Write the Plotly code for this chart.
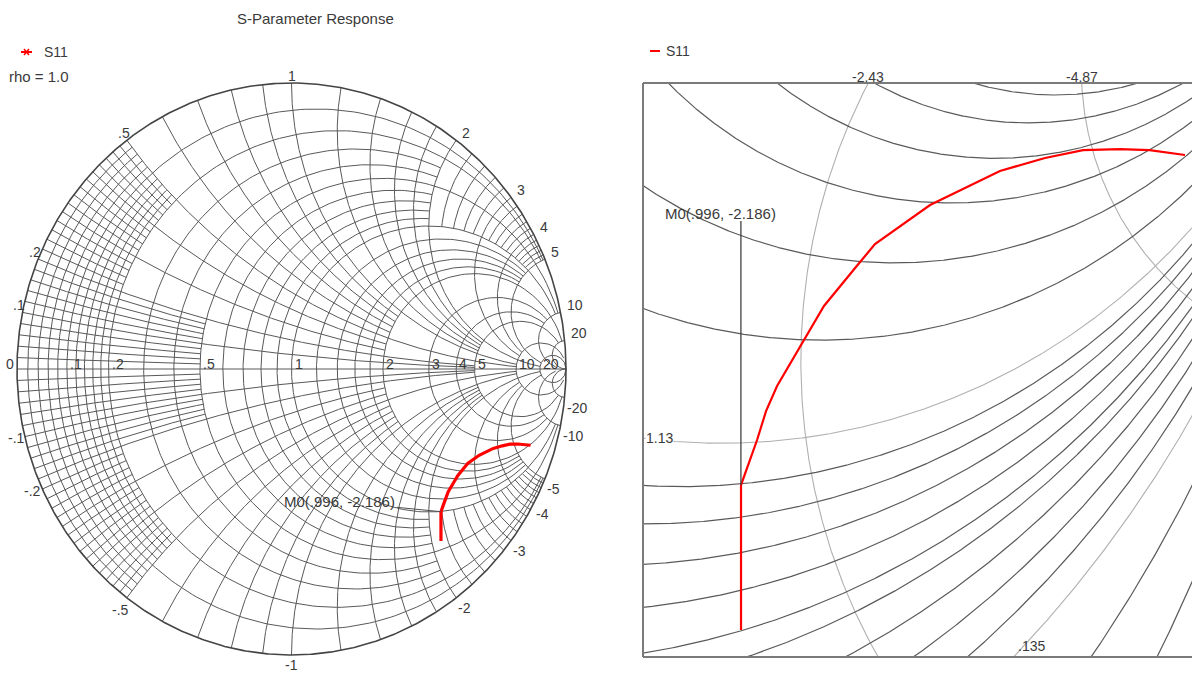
import numpy as np
import plotly.graph_objects as go

W, H = 1192, 673

# ---------------- data ----------------
# S11 sweep as reflection coefficient (real, imaginary)
s11_re = [0.5445, 0.5445, 0.5445, 0.5563, 0.5629, 0.5710, 0.5871, 0.6055,
          0.6290, 0.6430, 0.6835, 0.7349, 0.7680, 0.7960, 0.8232, 0.8449, 0.8710]
s11_im = [-0.6010, -0.5503, -0.4989, -0.4672, -0.4468, -0.4292, -0.4031, -0.3728,
          -0.3454, -0.3292, -0.3017, -0.2777, -0.2686, -0.2630, -0.2623, -0.2630, -0.2665]

# marker M0, normalized impedance r + jx
m0_r, m0_x = 0.996, -2.186

# Smith chart tick labels
real_vals = [0, 0.1, 0.2, 0.5, 1, 2, 3, 4, 5, 10, 20]
real_text = ["0", ".1", ".2", ".5", "1", "2", "3", "4", "5", "10", "20"]
imag_vals = [0.1, 0.2, 0.5, 1, 2, 3, 4, 5, 10, 20,
             -0.1, -0.2, -0.5, -1, -2, -3, -4, -5, -10, -20]
imag_text = [".1", ".2", ".5", "1", "2", "3", "4", "5", "10", "20",
             "-.1", "-.2", "-.5", "-1", "-2", "-3", "-4", "-5", "-10", "-20"]

# zoomed view: labelled circles and the plain resistance circles between them
zoom_res_vals = [1.13, 0.135]
zoom_res_text = ["1.13", ".135"]
zoom_reac_vals = [-2.43, -4.87]
zoom_reac_text = ["-2.43", "-4.87"]
zoom_grid_res = [-0.265, -0.065, 0.235, 0.335, 0.435, 0.535, 0.6, 0.7, 0.8, 0.9, 1.0,
                 1.52, 1.92, 2.33, 2.72, 3.1, 3.46]

# ---------------- helpers ----------------
FONT = "Liberation Sans, Arial, sans-serif"
TXT = "#3a3a3a"


def to_gamma(r, x):
    z = np.asarray(r, dtype=float) + 1j * np.asarray(x, dtype=float)
    g = (z - 1) / (z + 1)
    return g.real, g.imag


def res_arc(r, xmax, n=260):
    a = np.arctan(xmax)
    x = np.tan(np.linspace(-a, a, n))
    return to_gamma(np.full_like(x, r), x)


def reac_arc(x, rmax, n=260):
    r = np.tan(np.linspace(0, np.arctan(rmax), n))
    return to_gamma(r, np.full_like(r, x))


def circle(c, rad, n=3000):
    t = np.linspace(0, 2 * np.pi, n)
    return c[0] + rad * np.cos(t), c[1] + rad * np.sin(t)


def join(parts):
    xs, ys = [], []
    for px, py in parts:
        xs.extend(list(px) + [None])
        ys.extend(list(py) + [None])
    return xs, ys


def step(a, b, d, skip=()):
    out = []
    v = a
    while v <= b + 1e-9:
        if all(abs(v - s) > 1e-9 for s in skip):
            out.append(round(v, 4))
        v += d
    return out


# ---------------- full chart grid ----------------
fine = step(0.02, 0.18, 0.02, skip=(0.1,))
res_spec = [
    (fine, 0.5), ([0.1, 0.2], 5), ([0.3, 0.4], 2), ([0.5], 10),
    ([0.6, 0.7, 0.8, 0.9], 2), ([1.0], 10), ([1.2, 1.4, 1.6, 1.8], 5),
    ([2.0], 20), ([3.0, 4.0], 10), ([5.0], 20), ([10.0], 50), ([20.0], np.inf),
]
reac_spec = [
    (fine, 0.5), (step(0.22, 0.48, 0.02, skip=(0.3, 0.4)), 0.2),
    ([0.1, 0.2], 5), ([0.3, 0.4], 2), ([0.5], 10), ([0.6, 0.7, 0.8, 0.9], 2),
    ([1.0], 10), ([1.2, 1.4, 1.6, 1.8], 5), ([2.0], 20),
    (step(2.2, 4.8, 0.2, skip=(3.0, 4.0)), 1), ([3.0, 4.0], 10), ([5.0], 20),
    ([10.0], 50), ([20.0], np.inf),
]

parts = []
for vals, xm in res_spec:
    for r in vals:
        parts.append(res_arc(r, xm))
for vals, rm in reac_spec:
    for x in vals:
        parts.append(reac_arc(x, rm))
        parts.append(reac_arc(-x, rm))
parts.append(([-1, 1], [0, 0]))
gx, gy = join(parts)
rim_x, rim_y = circle((0, 0), 1, 800)

# ---------------- zoomed view grid ----------------
zparts = [circle((r / (1 + r), 0), 1 / (1 + r)) for r in zoom_grid_res]
zx, zy = join(zparts)
lparts = [circle((r / (1 + r), 0), 1 / (1 + r)) for r in zoom_res_vals]
lparts += [circle((1, 1 / x), 1 / abs(x)) for x in zoom_reac_vals]
lx, ly = join(lparts)

# ---------------- layout geometry ----------------
# full chart: unit circle spans x 17..566 px and y 83..655 px
L_px = (11, 572)
L_py = (77, 661)
kx, ky = 274.5, 286.0
lxr = [-1 - 6 / kx, 1 + 6 / kx]
lyr = [-1 - 6 / ky, 1 + 6 / ky]

# zoomed view window
R_px = (643, 1192)
R_py = (83, 657)
SX, SY, OX, OY = 1360.0, 1420.0, 0.5, -223.4
rxr = [(R_px[0] - OX) / SX, (R_px[1] - OX) / SX]
ryr = [(OY - R_py[1]) / SY, (OY - R_py[0]) / SY]


def dom_x(p):
    return [p[0] / W, p[1] / W]


def dom_y(p):
    return [1 - p[1] / H, 1 - p[0] / H]


fig = go.Figure()

# full chart
fig.add_trace(go.Scatter(x=gx, y=gy, mode="lines", line=dict(color="#595959", width=1),
                         hoverinfo="skip", showlegend=False, xaxis="x", yaxis="y"))
fig.add_trace(go.Scatter(x=rim_x, y=rim_y, mode="lines", line=dict(color="#444444", width=1.6),
                         hoverinfo="skip", showlegend=False, xaxis="x", yaxis="y"))
fig.add_trace(go.Scatter(x=s11_re, y=s11_im, mode="lines", line=dict(color="#ff0000", width=3.2),
                         name="S11", showlegend=False, xaxis="x", yaxis="y"))

# zoomed view
fig.add_trace(go.Scatter(x=lx, y=ly, mode="lines", line=dict(color="#b0b0b0", width=1.1),
                         hoverinfo="skip", showlegend=False, xaxis="x2", yaxis="y2"))
fig.add_trace(go.Scatter(x=zx, y=zy, mode="lines", line=dict(color="#5a5a5a", width=1.2),
                         hoverinfo="skip", showlegend=False, xaxis="x2", yaxis="y2"))
fig.add_trace(go.Scatter(x=s11_re, y=s11_im, mode="lines", line=dict(color="#ff0000", width=2.2),
                         name="S11", showlegend=False, xaxis="x2", yaxis="y2"))

ann = []


def A(**k):
    base = dict(showarrow=False, xanchor="center", yanchor="middle",
                font=dict(family=FONT, size=14, color=TXT))
    base.update(k)
    ann.append(base)


# real axis labels
for v, t in zip(real_vals, real_text):
    gxv, gyv = to_gamma(v, 0)
    if v == 0:
        A(x=float(gxv), y=0, xref="x", yref="y", text=t, xanchor="right", xshift=-1, yshift=5)
    else:
        A(x=float(gxv), y=0, xref="x", yref="y", text=t, xanchor="left", xshift=1, yshift=5)

# rim labels
for v, t in zip(imag_vals, imag_text):
    gxv, gyv = to_gamma(0, v)
    gxv, gyv = float(gxv), float(gyv)
    right = gxv > 0.3
    if v > 0:
        if right:
            A(x=gxv, y=gyv, xref="x", yref="y", text=t, xanchor="left", xshift=4, yshift=7)
        else:
            A(x=gxv, y=gyv, xref="x", yref="y", text=t,
              xshift=0 if abs(gxv) < 0.05 else -3, yshift=7)
    else:
        if right:
            A(x=gxv, y=gyv, xref="x", yref="y", text=t, xanchor="left", xshift=0, yshift=-10)
        else:
            A(x=gxv, y=gyv, xref="x", yref="y", text=t,
              xshift=0 if abs(gxv) < 0.05 else -6, yshift=-10 if abs(gxv) < 0.05 else -12)

# marker M0
m0_gr, m0_gi = (float(a) for a in to_gamma(m0_r, m0_x))
m0_text = "M0(.996, -2.186)"
ann.append(dict(x=m0_gr, y=m0_gi, xref="x", yref="y", text=m0_text, showarrow=True,
                arrowhead=0, arrowwidth=1, arrowcolor="#505050", ax=-101, ay=-10, standoff=0,
                font=dict(family=FONT, size=15, color=TXT)))
A(x=m0_gr, y=(OY - 213) / SY, xref="x2", yref="y2", text=m0_text, xshift=-20,
  font=dict(family=FONT, size=15, color=TXT))

# zoomed view labels
gi_top, gi_bot, gr_left = ryr[1], ryr[0], rxr[0]
for xv, t in zip(zoom_reac_vals, zoom_reac_text):
    c, rad = 1 / xv, 1 / abs(xv)
    gxv = 1 - np.sqrt(rad ** 2 - (gi_top - c) ** 2)
    A(x=float(gxv), y=gi_top, xref="x2", yref="y2", text=t, yshift=6)
r = zoom_res_vals[0]
c, rad = r / (1 + r), 1 / (1 + r)
A(x=gr_left, y=float(-np.sqrt(rad ** 2 - (gr_left - c) ** 2)), xref="x2", yref="y2",
  text=zoom_res_text[0], xanchor="left", xshift=2, bgcolor="white", borderpad=0)
r = zoom_res_vals[1]
c, rad = r / (1 + r), 1 / (1 + r)
A(x=float(c + np.sqrt(rad ** 2 - gi_bot ** 2)), y=gi_bot, xref="x2", yref="y2",
  text=zoom_res_text[1], xanchor="left", yanchor="bottom", xshift=2, yshift=1)

# titles and legends
A(x=315 / W, y=1 - 18 / H, xref="paper", yref="paper", text="S-Parameter Response",
  font=dict(family=FONT, size=15, color=TXT))
A(x=42 / W, y=1 - 52 / H, xref="paper", yref="paper", text="S11", xanchor="left",
  font=dict(family=FONT, size=14, color=TXT))
A(x=7 / W, y=1 - 76 / H, xref="paper", yref="paper", text="rho = 1.0", xanchor="left",
  font=dict(family=FONT, size=15, color=TXT))
A(x=664 / W, y=1 - 51 / H, xref="paper", yref="paper", text="S11", xanchor="left",
  font=dict(family=FONT, size=14, color=TXT))

shapes = [
    dict(type="line", xref="paper", yref="paper", x0=21 / W, x1=32 / W, y0=1 - 52 / H, y1=1 - 52 / H,
         line=dict(color="#ff0000", width=2)),
    dict(type="line", xref="paper", yref="paper", x0=24 / W, x1=29 / W, y0=1 - 49 / H, y1=1 - 55 / H,
         line=dict(color="#ff0000", width=1.5)),
    dict(type="line", xref="paper", yref="paper", x0=24 / W, x1=29 / W, y0=1 - 55 / H, y1=1 - 49 / H,
         line=dict(color="#ff0000", width=1.5)),
    dict(type="line", xref="paper", yref="paper", x0=650 / W, x1=660 / W, y0=1 - 51 / H, y1=1 - 51 / H,
         line=dict(color="#ff0000", width=2)),
    # zoomed view frame
    dict(type="line", xref="paper", yref="paper", x0=R_px[0] / W, x1=R_px[0] / W,
         y0=1 - R_py[0] / H, y1=1 - R_py[1] / H, line=dict(color="#7a7a7a", width=2)),
    dict(type="line", xref="paper", yref="paper", x0=R_px[0] / W, x1=1,
         y0=1 - R_py[0] / H, y1=1 - R_py[0] / H, line=dict(color="#7a7a7a", width=2)),
    dict(type="line", xref="paper", yref="paper", x0=R_px[0] / W, x1=1,
         y0=1 - R_py[1] / H, y1=1 - R_py[1] / H, line=dict(color="#7a7a7a", width=2)),
    # marker leader in the zoomed view
    dict(type="line", xref="x2", yref="y2", x0=m0_gr, x1=m0_gr, y0=m0_gi, y1=(OY - 221) / SY,
         line=dict(color="#404040", width=1.3)),
]

ax_common = dict(visible=False, showgrid=False, zeroline=False, fixedrange=True)
fig.update_layout(
    width=W, height=H, margin=dict(l=0, r=0, t=0, b=0),
    paper_bgcolor="white", plot_bgcolor="white", showlegend=False,
    xaxis=dict(domain=dom_x(L_px), range=lxr, **ax_common),
    yaxis=dict(domain=dom_y(L_py), range=lyr, **ax_common),
    xaxis2=dict(domain=dom_x(R_px), range=rxr, anchor="y2", **ax_common),
    yaxis2=dict(domain=dom_y(R_py), range=ryr, anchor="x2", **ax_common),
    annotations=ann, shapes=shapes,
)

fig.write_html("out.html")
